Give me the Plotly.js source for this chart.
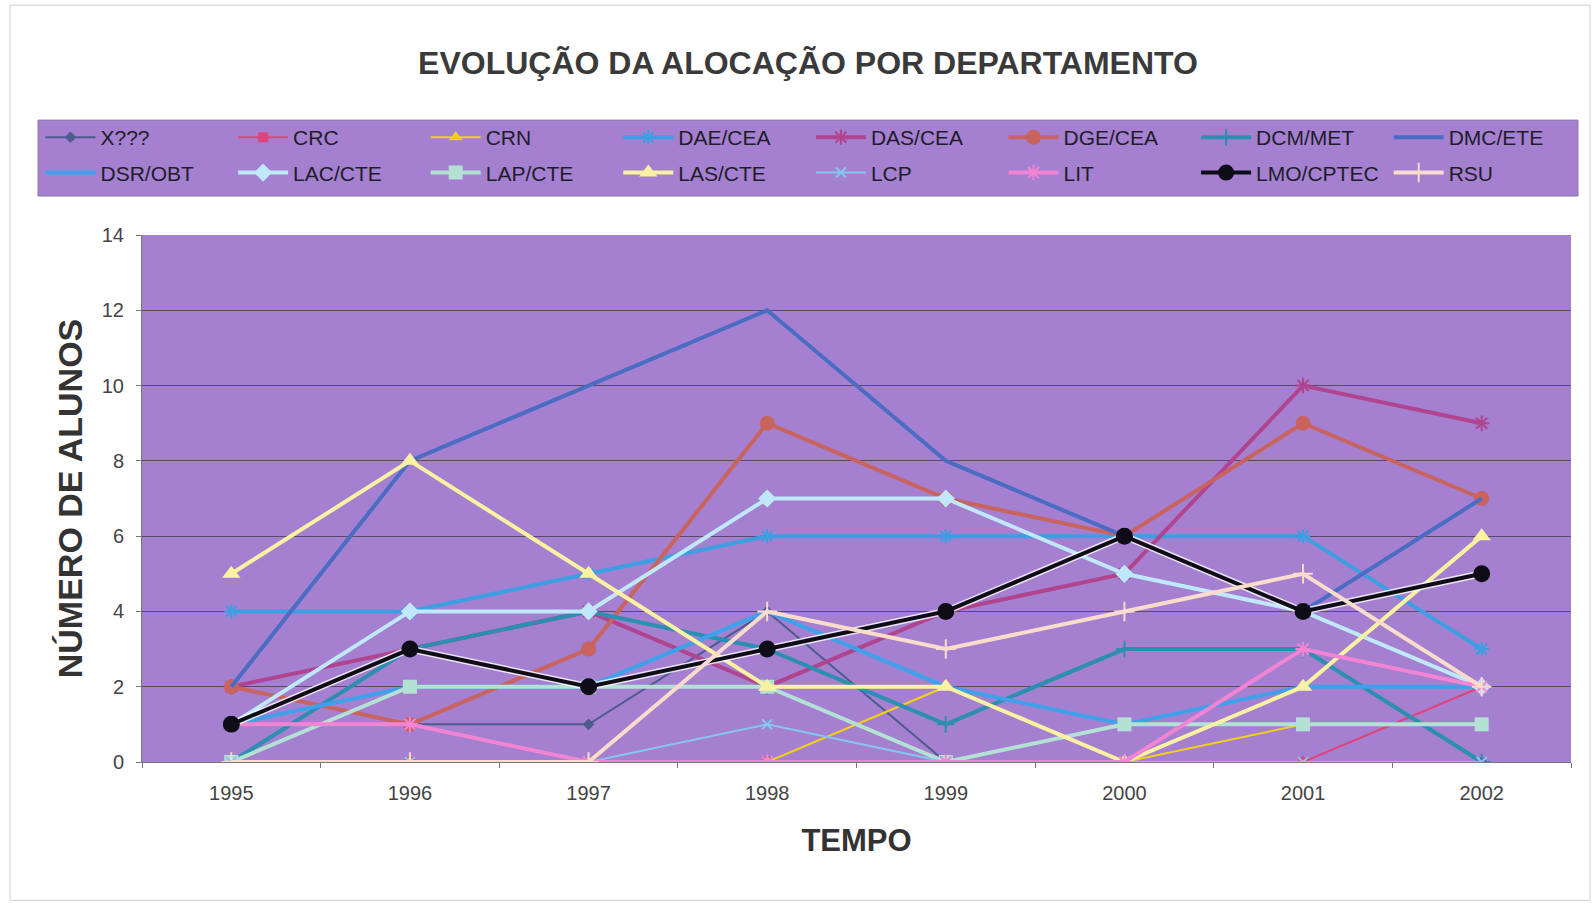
<!DOCTYPE html>
<html>
<head>
<meta charset="utf-8">
<script src="https://cdn.plot.ly/plotly-3.0.1.min.js"></script>
<style>html,body{margin:0;padding:0;background:#fff;}#chart{width:1592px;height:904px;}</style>
</head>
<body>
<div id="chart"></div>
<script>
const years = ['1995','1996','1997','1998','1999','2000','2001','2002'];
const seriesNames = ['X???','CRC','CRN','DAE/CEA','DAS/CEA','DGE/CEA','DCM/MET','DMC/ETE','DSR/OBT','LAC/CTE','LAP/CTE','LAS/CTE','LCP','LIT','LMO/CPTEC','RSU'];
const xUnknown = [1,1,1,4,0,0,0,0];
const crc      = [0,0,0,0,0,0,0,2];
const crn      = [0,0,0,0,2,0,1,1];
const daeCea   = [4,4,5,6,6,6,6,3];
const dasCea   = [2,3,4,2,4,5,10,9];
const dgeCea   = [2,1,3,9,7,6,9,7];
const dcmMet   = [0,3,4,3,1,3,3,0];
const dmcEte   = [2,8,10,12,8,6,4,7];
const dsrObt   = [1,2,2,4,2,1,2,2];
const lacCte   = [1,4,4,7,7,5,4,2];
const lapCte   = [0,2,2,2,0,1,1,1];
const lasCte   = [5,8,5,2,2,0,2,6];
const lcp      = [0,0,0,1,0,0,0,0];
const lit      = [1,1,0,0,0,0,3,2];
const lmoCptec = [1,3,2,3,4,6,4,5];
const rsu      = [0,0,0,4,3,4,5,2];

const values = [xUnknown,crc,crn,daeCea,dasCea,dgeCea,dcmMet,dmcEte,dsrObt,lacCte,lapCte,lasCte,lcp,lit,lmoCptec,rsu];
const styles = [
  {c:'#4d5c8c', w:2, s:'diamond', ms:9},
  {c:'#e0447c', w:2, s:'square', ms:10},
  {c:'#f2cf18', w:2, s:'triangle-up', ms:12},
  {c:'#3b9fe2', w:4, s:'asterisk-open', ms:12},
  {c:'#b0448e', w:4, s:'asterisk-open', ms:13},
  {c:'#c9635e', w:4, s:'circle', ms:15},
  {c:'#2b8fb2', w:4, s:'cross-thin-open', ms:12},
  {c:'#4a6cc2', w:4, s:'line-ew', ms:1},
  {c:'#3fa1ea', w:4, s:'line-ew', ms:1},
  {c:'#bfe9fb', w:4, s:'diamond', ms:14},
  {c:'#b3e2d4', w:4, s:'square', ms:14},
  {c:'#f9f2a2', w:4, s:'triangle-up', ms:16},
  {c:'#86c6f2', w:2, s:'x-thin-open', ms:10},
  {c:'#f284d4', w:4, s:'asterisk-open', ms:13},
  {c:'#0e0c16', w:4, s:'circle', ms:17},
  {c:'#f9dccb', w:4, s:'cross-thin-open', ms:14}
];

// plot area geometry (pixels)
const PL = 142, PR = 1571, PT = 235, PB = 762.5;
const PW = PR - PL, PH = PB - PT;
const px2x = p => (p - PL) / PW;
const px2y = p => (PB - p) / PH;

const legendIds = ['legend','legend2','legend3','legend4','legend5','legend6','legend7','legend8'];
const traces = [];
seriesNames.forEach((n,i)=>{
  const st = styles[i];
  const lg = legendIds[i % 8];
  if (n === 'LMO/CPTEC') {
    traces.push({x: years, y: values[i], type:'scatter', mode:'lines', showlegend:false, hoverinfo:'skip',
      line:{color:'rgba(255,255,255,0.8)', width:7}});
  }
  traces.push({
    x: years, y: values[i], name: n, type:'scatter', mode:'lines+markers',
    legend: lg, legendgroup: n,
    line:{color: st.c, width: st.w},
    marker:{symbol: st.s, size: st.ms, color: st.c, line:{color: st.c, width: (st.s.indexOf('open')>=0 ? 2 : 0)}}
  });
});

const layout = {
  width:1592, height:904,
  paper_bgcolor:'#ffffff',
  plot_bgcolor:'#a57fd0',
  margin:{l:PL, r:1592-PR, t:PT, b:904-PB},
  font:{family:'Liberation Sans, Arial, sans-serif', color:'#222'},
  title:{text:'EVOLUÇÃO DA ALOCAÇÃO POR DEPARTAMENTO', x:808/1592, xref:'container', xanchor:'center', y:1-63/904, yref:'container', yanchor:'middle',
    font:{family:'Liberation Sans, Arial, sans-serif', size:32, color:'#3a3a3a', weight:'bold'}},
  xaxis:{
    type:'category', range:[-0.5,7.5], showgrid:false, showline:true, linecolor:'#777', linewidth:1,
    ticks:'outside', ticklen:5, tickcolor:'#777', tickson:'boundaries', ticklabelstandoff:13,
    tickfont:{size:20, color:'#444'},
    title:{text:'TEMPO', standoff:26, font:{size:31, color:'#333', weight:'bold'}}
  },
  yaxis:{
    range:[0,14], dtick:2, showgrid:true, gridcolor:'#5a4a66', gridwidth:1, zeroline:false,
    showline:true, linecolor:'#777', linewidth:1, ticks:'outside', ticklen:5, tickcolor:'#777',
    ticklabelstandoff:8,
    tickfont:{size:20, color:'#444'},
    title:{text:'NÚMERO DE ALUNOS', standoff:8, font:{size:34, color:'#333', weight:'bold'}}
  },
  shapes:[
    {type:'rect', xref:'paper', yref:'paper', x0:px2x(10), x1:px2x(1590), y0:px2y(901), y1:px2y(5), line:{color:'#d0d0d0', width:1}, fillcolor:'rgba(0,0,0,0)', layer:'below'},
    {type:'rect', xref:'paper', yref:'paper', x0:px2x(38), x1:px2x(1578), y0:px2y(196), y1:px2y(120), line:{color:'#8f78a8', width:1}, fillcolor:'#a57fd0', layer:'below'}
  ]
};
legendIds.forEach((id,k)=>{
  layout[id] = {
    orientation:'v', x:px2x(40.5 + 192.6*k), xanchor:'left', y:px2y(117), yanchor:'top',
    bgcolor:'rgba(0,0,0,0)', borderwidth:0, itemwidth:50,
    traceorder:'grouped', tracegroupgap:5,
    font:{family:'Liberation Sans, Arial, sans-serif', size:21, color:'#1e1e2a'}
  };
});
Plotly.newPlot('chart', traces, layout, {displayModeBar:false, staticPlot:true});
</script>
</body>
</html>
